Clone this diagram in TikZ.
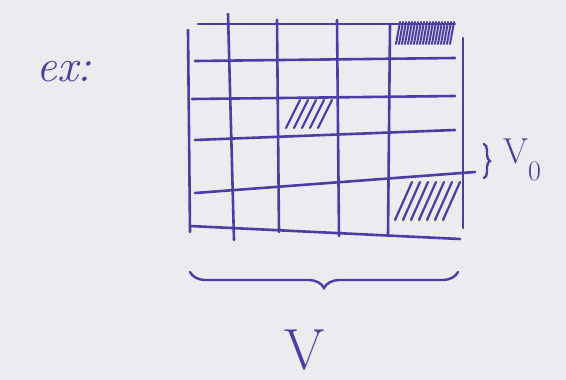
\documentclass[tikz,border=0pt]{standalone}
\usetikzlibrary{decorations.pathreplacing}
\definecolor{ink}{RGB}{72,62,165}
\definecolor{paper}{RGB}{236,236,240}
\tikzset{
  gridline/.style={draw=ink, line width=2.6pt, line cap=round},
  hatch/.style={draw=ink, line width=2.2pt, line cap=round},
  inktext/.style={text=ink, inner sep=0pt},
  bracestyle/.style={draw=ink, line width=2.4pt, line cap=round, decorate}
}
\begin{document}
\begin{tikzpicture}[x=1pt,y=-1pt]
\fill[paper] (0,0) rectangle (566,380);
\useasboundingbox (0,0) rectangle (566,380);
% horizontal lines
\draw[gridline] (198,24) -- (455,24);
\draw[gridline] (195,61) -- (455,58);
\draw[gridline] (192,99) -- (455,96);
\draw[gridline] (195,140) -- (455,130);
\draw[gridline] (195,193) -- (475,172);
\draw[gridline] (190,226) -- (460,239);
% vertical lines
\draw[gridline] (188,30) -- (190,232);
\draw[gridline] (228,14) -- (234,240);
\draw[gridline] (277,20) -- (279,232);
\draw[gridline] (337,20) -- (339,236);
\draw[gridline] (390,25) -- (388,236);
\draw[gridline] (463,38) -- (463,228);
% hatched cells
\foreach \i in {0,3,6,9,12,15,18,21,24,27,30,33,36,39,42,45,48,51,54}
  \draw[hatch, line width=2pt] (396+\i,44) -- (400+\i,22);
\foreach \i in {0,8,16,24,32}
  \draw[hatch] (286+\i,128) -- (300+\i,100);
\foreach \i in {0,8,16,24,32,40,48}
  \draw[hatch] (395+\i,220) -- (412+\i,182);
% braces
\coordinate (br1) at (458,272);
\coordinate (br2) at (190,272);
\draw[bracestyle, decoration={brace, amplitude=16pt}] (br1) -- (br2);
\coordinate (bv1) at (484,144);
\coordinate (bv2) at (484,178);
\draw[bracestyle, decoration={brace, amplitude=6pt}] (bv1) -- (bv2);
% texts
\node[inktext, font=\fontsize{46}{46}\selectfont\itshape] (ex) at (64,72) {ex:};
\node[inktext, font=\fontsize{58}{58}\selectfont] (V) at (305,350) {V};
\node[inktext, font=\fontsize{36}{36}\selectfont, anchor=west] (V0) at (503,160) {V\raisebox{-0.45em}{\fontsize{28}{28}\selectfont 0}};
\end{tikzpicture}
\end{document}
